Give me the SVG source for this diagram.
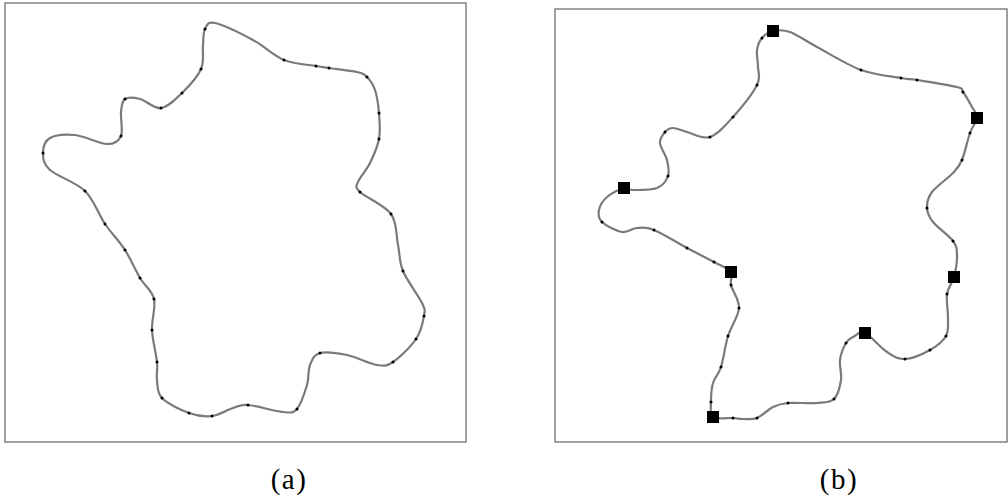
<svg xmlns="http://www.w3.org/2000/svg" width="1008" height="502" viewBox="0 0 1008 502">
<style>
.frame{fill:#fff;stroke:#6e6e6e;stroke-width:1.3}
.curve{fill:none;stroke:#7a7a7a;stroke-width:2.2;stroke-linejoin:round}
.dot{fill:#000}
.sq{fill:#000}
.lbl{font-family:"Liberation Serif","DejaVu Serif",serif;font-size:29px;letter-spacing:1.5px;fill:#000;text-anchor:middle}
</style>
<defs>
<circle id="d" r="1.5" class="dot"/>
<rect id="s" x="-6" y="-6" width="12" height="12" class="sq"/>
</defs>
<rect width="1008" height="502" fill="#fff"/>
<g id="panel-a">
<rect class="frame" x="5" y="3" width="461" height="439"/>
<path class="curve" d="M215,23 C223,24.8 241.5,33.8 253,40 S273.5,55.7 284,60 S308.5,64.7 316,66 S322.2,67 329,68 S350.7,70.5 357,72 S364,74 367,77 S373,84 375,90 S378.3,104.8 379,113 S380.5,130.7 379,139 S373.5,155.8 370,163 S359.7,177.2 358,182 S354.5,186.7 360,192 S384.7,205.2 391,214 S396,235.5 398,245 S399,261.3 403,271 S418.5,295.5 422,303 S425,310 424,316 S421.2,331.3 416,339 S399.5,357.7 393,362 S384.7,366.2 377,365 S356.5,357 347,355 S326.2,351.3 320,353 S312.2,359.7 310,365 S309.2,377.7 307,385 S301,404.5 297,409 S291.2,412.7 283,412 S256.3,405.7 248,405 S239,406.2 233,408 S219.3,415.2 212,416 S197.3,416 189,413 S167.3,403.5 162,398 S157.8,386 157,380 S157.8,370.3 157,362 S152.5,340.5 152,330 S156,307.7 154,299 S144.8,286.2 140,278 S130.8,259 125,250 S111.7,233.8 105,224 S94.2,200 85,191 S57,176.3 50,170 S43,158.3 43,153 S44.7,141 50,138 S65.5,134 75,135 S99.3,143.8 107,144 S118.7,141.3 121,136 S120.3,118.2 121,112 S121.8,101.2 125,99 S134,97.5 140,99 S154,109 161,108 S175.3,99.5 182,93 S197.5,77 201,69 S202.3,51.7 203,45 S203,32.7 205,29 S207,21.2 215,23 Z"/>
<g id="dots-a">
<use href="#d" x="205" y="29"/><use href="#d" x="284" y="60"/><use href="#d" x="316" y="66"/><use href="#d" x="329" y="68"/><use href="#d" x="367" y="77"/><use href="#d" x="379" y="113"/><use href="#d" x="379" y="139"/><use href="#d" x="360" y="192"/><use href="#d" x="391" y="214"/><use href="#d" x="403" y="271"/><use href="#d" x="424" y="316"/><use href="#d" x="416" y="339"/><use href="#d" x="393" y="362"/><use href="#d" x="320" y="353"/><use href="#d" x="297" y="409"/><use href="#d" x="248" y="405"/><use href="#d" x="212" y="416"/><use href="#d" x="189" y="413"/><use href="#d" x="162" y="398"/><use href="#d" x="157" y="362"/><use href="#d" x="152" y="330"/><use href="#d" x="154" y="299"/><use href="#d" x="140" y="278"/><use href="#d" x="125" y="250"/><use href="#d" x="105" y="224"/><use href="#d" x="85" y="191"/><use href="#d" x="43" y="153"/><use href="#d" x="121" y="136"/><use href="#d" x="125" y="99"/><use href="#d" x="161" y="108"/><use href="#d" x="182" y="93"/><use href="#d" x="201" y="69"/>
</g>
<text class="lbl" x="289" y="489">(a)</text>
</g>
<g id="panel-b">
<rect class="frame" x="555" y="9" width="452" height="433"/>
<path class="curve" d="M773,31 C777.7,30 782.7,29.3 790,32 S805.2,40.7 817,47 S847,64.8 861,70 S891.7,76.3 901,78 S907.7,78.5 917,80 S949.3,85 957,87 S960.5,88.7 963,92 S969.7,102.7 972,107 S977.3,113.7 977,118 S972.5,126 970,133 S964.8,153.3 962,160 S958,167.7 953,173 S936.3,186.2 932,192 S926.8,203 927,208 S928.7,216.5 933,222 S949,235.5 953,241 S956.8,249 957,255 S955.7,270.5 954,277 S948,287.2 947,294 S948.2,311 948,318 S949,330.7 946,336 S936.8,346.2 930,350 S912.2,358.7 905,359 S893.7,356.3 887,352 S870.7,335.5 865,333 S856.2,335.3 853,337 S848.2,339.2 846,343 S840.8,353.8 840,360 S842,373.5 841,380 S838,395.2 834,399 S824.7,402.3 817,403 S795.3,402.3 788,403 S778.2,404.5 773,407 S762,416 757,418 S747,419 743,419 S738,418.3 733,418 S716.7,419.7 713,417 S711,407.7 711,402 S711.3,388.8 713,383 S718.5,374.8 721,367 S725,345.8 728,336 S738.5,316.5 739,308 S732.3,291 731,285 S733.8,275.8 731,272 S721.3,266 714,262 S697,253.3 687,248 S662.3,233.3 654,230 S642.3,227.7 637,228 S627.8,233 622,232 S605.8,225.7 602,222 S598.2,214.2 599,210 S602.8,200.7 607,197 S619.7,189.2 624,188 S627.5,190 633,190 S651.2,190.3 657,188 S666.3,180.7 668,176 S668.3,165.5 667,160 S660.3,147.7 660,143 S662.8,134.5 665,132 S669.3,128 673,128 S680.8,130.5 687,132 S702.3,139.5 710,137 S725.2,125.7 733,117 S752.8,93.3 757,85 S758,72.8 758,67 S756.3,54.8 757,50 S759.3,41.2 762,38 S768.3,32 773,31 Z"/>
<g id="dots-b">
<use href="#d" x="861" y="70"/><use href="#d" x="901" y="78"/><use href="#d" x="917" y="80"/><use href="#d" x="963" y="92"/><use href="#d" x="970" y="133"/><use href="#d" x="962" y="160"/><use href="#d" x="927" y="208"/><use href="#d" x="953" y="241"/><use href="#d" x="947" y="294"/><use href="#d" x="946" y="336"/><use href="#d" x="930" y="350"/><use href="#d" x="905" y="359"/><use href="#d" x="846" y="343"/><use href="#d" x="834" y="399"/><use href="#d" x="788" y="403"/><use href="#d" x="757" y="418"/><use href="#d" x="733" y="418"/><use href="#d" x="711" y="402"/><use href="#d" x="721" y="367"/><use href="#d" x="728" y="336"/><use href="#d" x="739" y="308"/><use href="#d" x="731" y="285"/><use href="#d" x="714" y="262"/><use href="#d" x="687" y="248"/><use href="#d" x="654" y="230"/><use href="#d" x="602" y="222"/><use href="#d" x="668" y="176"/><use href="#d" x="665" y="132"/><use href="#d" x="710" y="137"/><use href="#d" x="733" y="117"/><use href="#d" x="757" y="85"/><use href="#d" x="762" y="38"/>
</g>
<g id="squares-b">
<use id="sq1" href="#s" x="773" y="31"/><use id="sq2" href="#s" x="977" y="118"/><use id="sq3" href="#s" x="954" y="277"/><use id="sq4" href="#s" x="865" y="333"/><use id="sq5" href="#s" x="713" y="417"/><use id="sq6" href="#s" x="731" y="272"/><use id="sq7" href="#s" x="624" y="188"/>
</g>
<text class="lbl" x="839" y="489">(b)</text>
</g>
</svg>
